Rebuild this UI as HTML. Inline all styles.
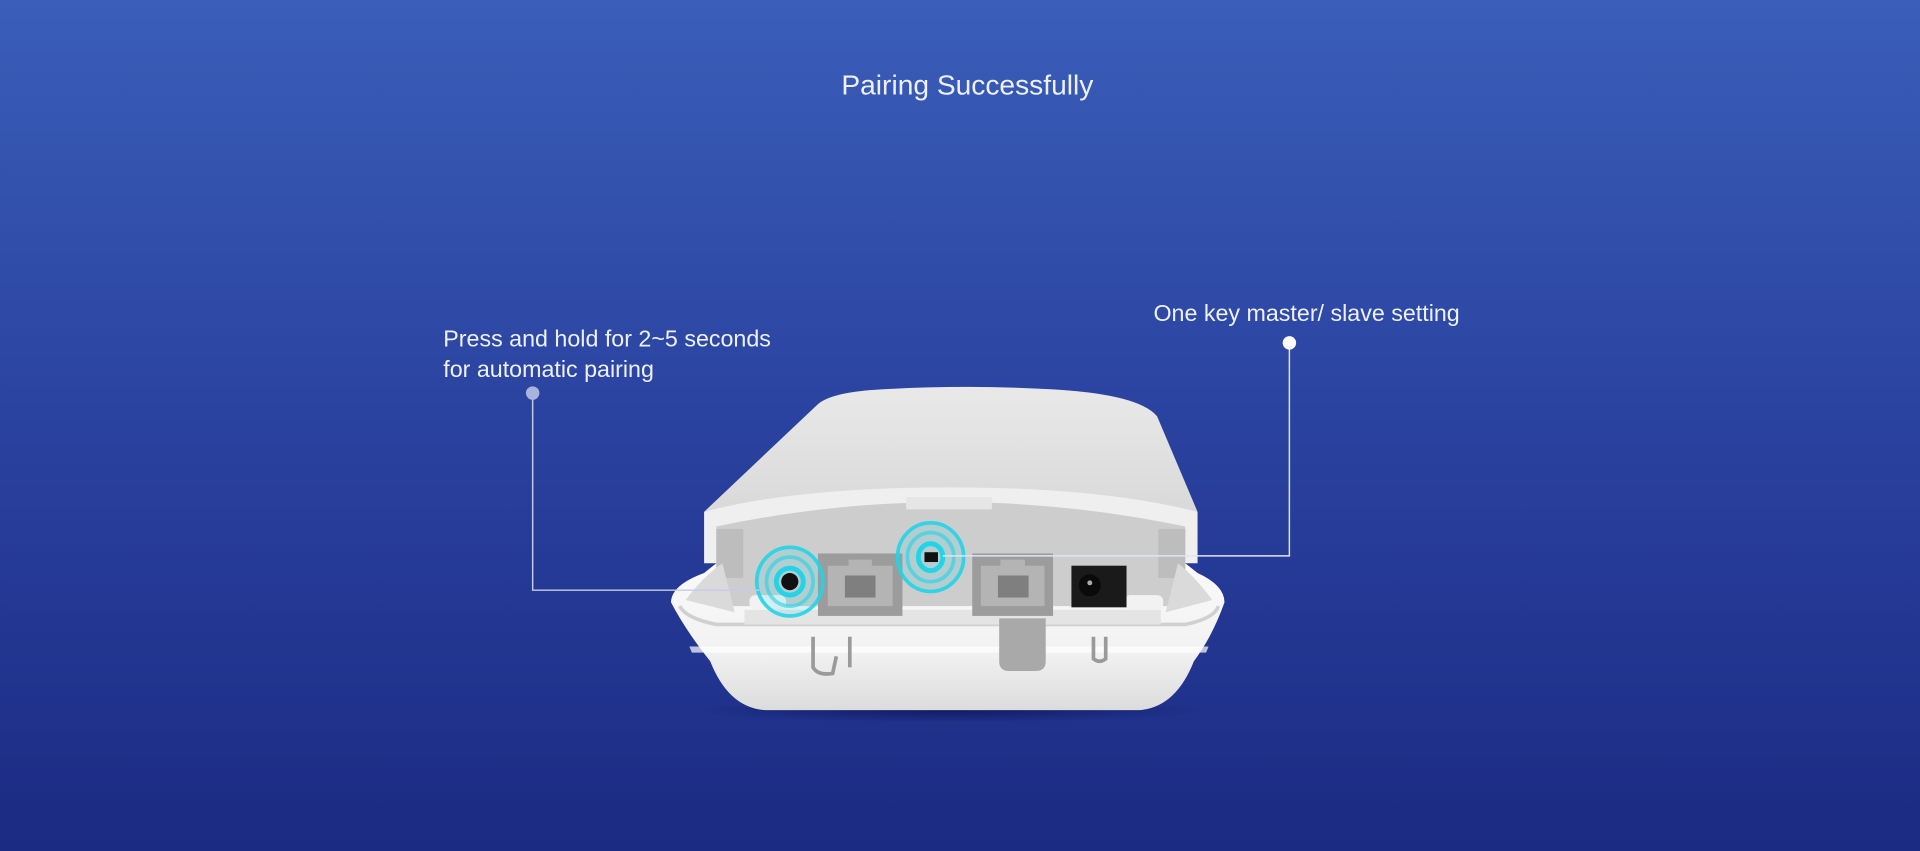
<!DOCTYPE html>
<html><head><meta charset="utf-8">
<style>
html,body{margin:0;padding:0;width:1920px;height:851px;overflow:hidden;background:#2a3f9c;}
svg{display:block}
text{font-family:"Liberation Sans",sans-serif;fill:#eef1fb}
</style></head>
<body>
<svg width="1920" height="851" viewBox="0 0 1568 695" xmlns="http://www.w3.org/2000/svg">
<defs>
<linearGradient id="bg" x1="0" y1="0" x2="0" y2="1">
<stop offset="0" stop-color="#3a5eb9"/>
<stop offset="0.5" stop-color="#2a429f"/>
<stop offset="1" stop-color="#1b2a83"/>
</linearGradient>
<linearGradient id="dome" x1="0" y1="0" x2="0" y2="1">
<stop offset="0" stop-color="#e9e9e9"/>
<stop offset="1" stop-color="#d9d9d9"/>
</linearGradient>
<linearGradient id="base" x1="0" y1="0" x2="0" y2="1">
<stop offset="0" stop-color="#fafafa"/>
<stop offset="0.6" stop-color="#f2f2f2"/>
<stop offset="1" stop-color="#dcdcdc"/>
</linearGradient>
<radialGradient id="sh" cx="0.5" cy="0.5" r="0.5">
<stop offset="0" stop-color="#0a1250" stop-opacity="0.7"/>
<stop offset="1" stop-color="#0a1250" stop-opacity="0"/>
</radialGradient>
</defs>
<rect width="1568" height="695" fill="url(#bg)"/>

<text x="790" y="77" font-size="23" text-anchor="middle">Pairing Successfully</text>
<text x="362" y="283" font-size="19">Press and hold for 2~5 seconds</text>
<text x="362" y="308" font-size="19">for automatic pairing</text>
<text x="942" y="262" font-size="19">One key master/ slave setting</text>

<ellipse cx="775" cy="580" rx="210" ry="10" fill="url(#sh)"/>

<path d="M575,418 L668,330 Q680,320 720,318 Q790,314 860,318 Q930,322 945,340 L978,418 Z" fill="url(#dome)"/>
<path d="M575,418 L575,460 L978,460 L978,418 Q900,398 776,398 Q650,398 575,418Z" fill="#efefef"/>
<path d="M585,430 Q680,410 776,410 Q872,410 968,430 L968,505 L585,505 Z" fill="#cdcdcd"/>
<rect x="740" y="406" width="70" height="10" fill="#e6e6e6"/>
<rect x="585" y="432" width="22" height="40" fill="#bdbdbd"/>
<rect x="946" y="432" width="22" height="40" fill="#bdbdbd"/>

<path d="M548,492 Q548,478 575,468 L585,460 L585,495 L968,495 L968,460 L978,468 Q1000,478 1000,492 Q990,520 975,540 Q960,578 930,580 L625,580 Q595,578 580,540 Q560,515 548,492Z" fill="url(#base)"/>
<path d="M555,495 Q560,505 585,510 L968,510 Q992,505 995,495" fill="none" stroke="#d0d0d0" stroke-width="3"/>
<path d="M563,528 L987,528 L985,533 L565,533Z" fill="#ffffff" opacity="0.7"/>
<path d="M560,490 Q575,470 590,460 L600,500 Z" fill="#dadada"/>
<path d="M990,490 Q975,470 962,460 L952,500 Z" fill="#dadada"/>
<rect x="608" y="498" width="340" height="12" fill="#e4e4e4"/>
<path d="M816,505 L854,505 L854,540 Q854,548 846,548 L824,548 Q816,548 816,540Z" fill="#a9a9a9"/>
<path d="M664,520 L664,545 Q668,552 680,550 L683,536" fill="none" stroke="#9a9a9a" stroke-width="3"/>
<path d="M694,520 L694,545" fill="none" stroke="#9a9a9a" stroke-width="3"/>
<path d="M893,520 L893,538 Q898,542 903,538 L903,520" fill="none" stroke="#9a9a9a" stroke-width="3"/>
<rect x="612" y="486" width="30" height="12" rx="5" fill="#f2f2f2"/>
<rect x="918" y="486" width="32" height="12" rx="5" fill="#f2f2f2"/>

<rect x="668" y="452" width="69" height="51" fill="#9c9c9c"/>
<path d="M676,462 L693,462 L693,457 L712,457 L712,462 L729,462 L729,495 L676,495Z" fill="#b4b4b4"/>
<rect x="690" y="470" width="25" height="18" fill="#7f7f7f"/>
<rect x="794" y="452" width="66" height="51" fill="#9c9c9c"/>
<path d="M801,462 L817,462 L817,457 L837,457 L837,462 L853,462 L853,495 L801,495Z" fill="#b4b4b4"/>
<rect x="815" y="470" width="25" height="18" fill="#7f7f7f"/>
<rect x="875" y="462" width="45" height="34" fill="#1a1a1a"/>
<circle cx="890" cy="478" r="9" fill="#0a0a0a"/>
<circle cx="890" cy="476" r="2" fill="#aaa"/>

<ellipse cx="645" cy="475" rx="27" ry="28" fill="#22d4e6" opacity="0.15"/>
<ellipse cx="760" cy="455" rx="27" ry="28" fill="#22d4e6" opacity="0.15"/>
<g fill="none" stroke="#22d4e6">
<ellipse cx="645" cy="475" rx="27" ry="28" stroke-width="3" opacity="0.9"/>
<ellipse cx="645" cy="475" rx="19" ry="20" stroke-width="3" opacity="0.6"/>
<ellipse cx="645" cy="475" rx="11" ry="11" stroke-width="4"/>
<ellipse cx="760" cy="455" rx="27" ry="28" stroke-width="3" opacity="0.9"/>
<ellipse cx="760" cy="455" rx="19" ry="20" stroke-width="3" opacity="0.6"/>
<ellipse cx="760" cy="455" rx="10" ry="11" stroke-width="4"/>
</g>
<circle cx="645" cy="475" r="7" fill="#111"/>
<rect x="755" y="451" width="11" height="8" fill="#111"/>

<polyline points="435,321 435,482 620,482" fill="none" stroke="#c4cbe6" stroke-width="1.2"/>
<circle cx="435" cy="321" r="5.5" fill="#a9b4de"/>
<polyline points="1053,280 1053,454 770,454" fill="none" stroke="#e0e4f2" stroke-width="1.2"/>
<circle cx="1053" cy="280" r="5.5" fill="#ffffff"/>
</svg>
</body></html>
